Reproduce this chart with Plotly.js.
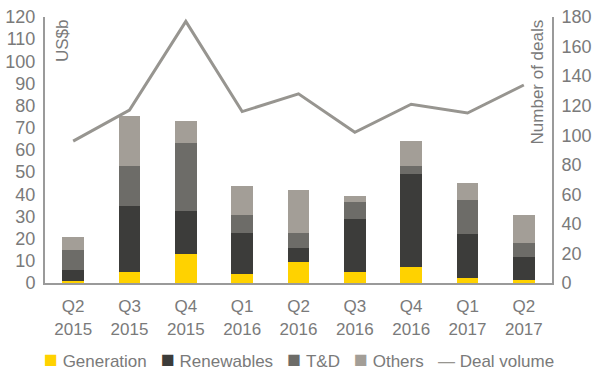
<!DOCTYPE html>
<html>
<head>
<meta charset="utf-8">
<script src="https://cdn.plot.ly/plotly-3.0.1.min.js"></script>
<style>html,body{margin:0;padding:0;background:#fff;}#chart{width:600px;height:376px;}</style>
</head>
<body>
<div id="chart"></div>
<script>
var quarterLabels = ["Q2","Q3","Q4","Q1","Q2","Q3","Q4","Q1","Q2"];
var yearLabels = ["2015","2015","2015","2016","2016","2016","2016","2017","2017"];
var categories = quarterLabels.map(function (q, i) { return q + "<br>" + yearLabels[i]; });
var generation = [1.0, 4.8, 12.9, 4.1, 9.5, 5.1, 7.3, 2.1, 1.4];
var renewables = [4.7, 29.9, 19.7, 18.3, 6.4, 23.6, 42.1, 20.0, 10.4];
var td = [9.0, 18.0, 30.6, 8.2, 6.5, 7.9, 3.4, 15.3, 6.1];
var others = [6.0, 22.5, 9.9, 13.1, 19.5, 2.7, 11.3, 7.8, 12.6];
var dealVolume = [96, 117, 177, 116, 128, 102, 121, 115, 134];
var seriesNames = ["Generation", "Renewables", "T&D", "Others", "Deal volume"];
var seriesColors = ["#FFD200", "#3c3c3a", "#6d6c68", "#a39e97", "#979590"];

var font = "Liberation Sans, Arial, sans-serif";
var grey = "#7a7a7a";
var axisLine = "#9a9a9a";

function bar(i, vals) {
  return {type: "bar", name: seriesNames[i], x: categories, y: vals, marker: {color: seriesColors[i]},
          yaxis: "y", showlegend: false};
}
var data = [
  bar(0, generation), bar(1, renewables), bar(2, td), bar(3, others),
  {type: "scatter", mode: "lines", name: seriesNames[4], x: categories, y: dealVolume, yaxis: "y2",
   line: {color: seriesColors[4], width: 3}, showlegend: false}
];

// legend drawn as one text line with coloured symbols
var legendParts = seriesNames.map(function (n, i) {
  var sym = i < 4 ? '<span style="font-size:23px;color:' + seriesColors[i] + '">\u25A0</span>'
                  : '<span style="color:' + seriesColors[i] + '">\u2014</span>';
  return sym + '\u00A0' + n.replace("&", "&amp;");
});
var legendText = legendParts.join("\u00A0\u00A0\u00A0");

var layout = {
  width: 600, height: 376,
  margin: {l: 45, r: 48, t: 17, b: 93},
  paper_bgcolor: "#fff", plot_bgcolor: "#fff",
  barmode: "stack", bargap: 0.61,
  font: {family: font, size: 17, color: grey},
  showlegend: false,
  xaxis: {type: "category", showline: true, linecolor: axisLine, linewidth: 2, showgrid: false, zeroline: false,
          ticks: "", ticklabelstandoff: 7, tickfont: {family: font, size: 17, color: grey}},
  yaxis: {range: [0, 120], dtick: 10, showline: true, linecolor: axisLine, linewidth: 2, showgrid: false, zeroline: false,
          ticks: "", ticklabelstandoff: 4, tickfont: {family: font, size: 18, color: grey}},
  yaxis2: {range: [0, 180], dtick: 20, overlaying: "y", side: "right", showline: true, linecolor: axisLine, linewidth: 2,
           showgrid: false, zeroline: false, ticks: "", ticklabelstandoff: 4, tickfont: {family: font, size: 18, color: grey}},
  annotations: [
    {text: "US$b", xref: "paper", yref: "paper", x: 0.012, y: 1, xanchor: "left", yanchor: "top", textangle: -90,
     showarrow: false, font: {family: font, size: 17, color: grey}},
    {text: "Number of deals", xref: "paper", yref: "paper", x: 0.995, y: 1, xanchor: "right", yanchor: "top", textangle: -90,
     showarrow: false, font: {family: font, size: 17, color: grey}},
    {text: legendText, xref: "paper", yref: "paper", x: -0.006, y: -0.287, xanchor: "left", yanchor: "middle",
     showarrow: false, font: {family: font, size: 17, color: grey}}
  ]
};

Plotly.newPlot("chart", data, layout, {displayModeBar: false, staticPlot: true});
</script>
</body>
</html>
